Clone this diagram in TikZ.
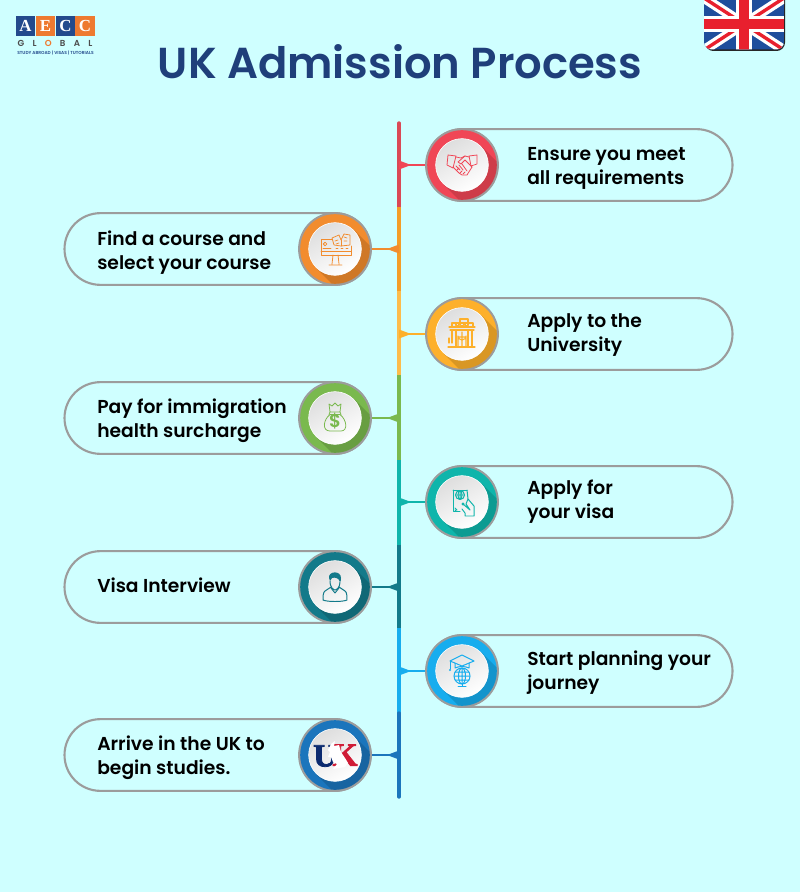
\documentclass[tikz,border=0pt]{standalone}
\usepackage{fontspec}
\setmainfont{Poppins}[BoldFont={Poppins SemiBold}]
\newfontfamily\serifbold{Liberation Serif}
\newfontfamily\heavyserif[BoldFeatures={FakeBold=2.5}]{Liberation Serif}
\usetikzlibrary{arrows.meta, positioning, calc}
\definecolor{skybg}{HTML}{CFFFFF}
\definecolor{titlenavy}{HTML}{1F3F7A}
\definecolor{pillgray}{HTML}{9C9C9C}
\definecolor{stepred}{HTML}{F04656}
\definecolor{steporange}{HTML}{F28C2E}
\definecolor{stepyellow}{HTML}{FDB02B}
\definecolor{stepgreen}{HTML}{7AB94E}
\definecolor{stepteal}{HTML}{0FB5AB}
\definecolor{stepdeep}{HTML}{137A8A}
\definecolor{stepsky}{HTML}{17ADEE}
\definecolor{stepblue}{HTML}{1B75BC}
\definecolor{logoblue}{HTML}{234A8C}
\definecolor{logoorange}{HTML}{EE7A30}
\definecolor{flagblue}{HTML}{1F4E9C}
\definecolor{flagred}{HTML}{E8202E}
\definecolor{uknavy}{HTML}{0B2A6F}
\definecolor{ukred}{HTML}{D01C36}
\begin{document}
\begin{tikzpicture}[x=0.025cm,y=-0.025cm]
  \tikzstyle{pill}=[draw=pillgray, line width=1.5pt, fill=skybg, rounded corners=25.5pt,
    minimum width=217.6pt, minimum height=51pt, inner sep=0pt]
  \tikzstyle{steptext}=[anchor=west, align=left, inner sep=0pt, font=\fontsize{13.3}{17}\selectfont\bfseries]
  \tikzstyle{ring}=[circle, fill=pillgray, minimum size=52.5pt, inner sep=0pt]
  \tikzstyle{badge}=[circle, fill=#1, minimum size=49.5pt, inner sep=0pt,
    path picture={\fill[black,opacity=.14]
      (path picture bounding box.center) ++(-19,19) -- ++(60,60) -- ++(38,-38) -- ++(-60,-60) -- cycle;}]
  \tikzstyle{disc}=[circle, draw=white, line width=0.4pt, minimum size=37.5pt, inner sep=0pt,
    left color=black!13, right color=white, shading angle=30]
  \tikzstyle{tap}=[line width=1.1pt]
  \tikzstyle{icon}=[line width=0.55pt, line join=round, line cap=round]

  \fill[skybg] (0,0) rectangle (800,892);
  \useasboundingbox (0,0) rectangle (800,892);

  % logo
  \node[fill=logoblue, minimum size=13.6pt, inner sep=0pt, text=white, font=\serifbold\bfseries\fontsize{12}{12}\selectfont] (lA) at (25.5,26) {A};
  \node[fill=logoorange, minimum size=13.6pt, inner sep=0pt, text=white, font=\serifbold\bfseries\fontsize{12}{12}\selectfont] (lE) at (45.5,26) {E};
  \node[fill=logoblue, minimum size=13.6pt, inner sep=0pt, text=white, font=\serifbold\bfseries\fontsize{12}{12}\selectfont] (lC) at (65.5,26) {C};
  \node[fill=logoorange, minimum size=13.6pt, inner sep=0pt, text=white, font=\serifbold\bfseries\fontsize{12}{12}\selectfont] (lD) at (85,26) {C};
  \node[text width=53pt, inner sep=0pt, text=black!70, font=\fontsize{6.2}{7}\selectfont\bfseries] (lG) at (55,43)
    {G\hfill L\hfill \textcolor{logoorange}{O}\hfill B\hfill A\hfill L};
  \node[inner sep=0pt, text=logoblue, font=\fontsize{3.1}{4}\selectfont\bfseries] (lT) at (55.5,53)
    {STUDY ABROAD | VISAS | TUTORIALS};

  % flag
  \fill[black!85, rounded corners=6pt] (705,-12) rectangle (785,51);
  \begin{scope}
    \clip[rounded corners=5.5pt] (704,-12) rectangle (784,49.5);
    \fill[flagblue] (704,-2) rectangle (784,50);
    \draw[white, line width=7pt] (704,-2) -- (784,50) (704,50) -- (784,-2);
    \draw[flagred, line width=2.4pt] (704,-2) -- (744,24) (784,50) -- (744,24) (704,50) -- (744,24) (784,-2) -- (744,24);
    \draw[white, line width=12pt] (744,-2) -- (744,50) (704,24) -- (784,24);
    \draw[flagred, line width=7.5pt] (744,-2) -- (744,50) (704,24) -- (784,24);
  \end{scope}

  \node[text=titlenavy, inner sep=0pt, font=\fontsize{30.8}{36}\selectfont\bfseries] (title) at (400,62)
    {UK Admission Process};

  % spine
  \coordinate (v0) at (399,123);
  \coordinate (v1) at (399,207);
  \coordinate (v2) at (399,291);
  \coordinate (v3) at (399,375);
  \coordinate (v4) at (399,460);
  \coordinate (v5) at (399,544.5);
  \coordinate (v6) at (399,628);
  \coordinate (v7) at (399,713);
  \coordinate (v8) at (399,797);
  \draw[line width=2.4pt,stepred!90!black!95,line cap=round] (v0)--(v1);
  \draw[line width=2.4pt,steporange!85!yellow] (v1)--(v2);
  \draw[line width=2.4pt,stepyellow!85!white] (v2)--(v3);
  \draw[line width=2.4pt,stepgreen] (v3)--(v4);
  \draw[line width=2.4pt,stepteal] (v4)--(v5);
  \draw[line width=2.4pt,stepdeep] (v5)--(v6);
  \draw[line width=2.4pt,stepsky] (v6)--(v7);
  \draw[line width=2.4pt,stepblue,line cap=round] (v7)--(v8);

  % steps
  \node[pill] (p1) at (579.5,165) {};
  \node[pill] (p2) at (217.5,249) {};
  \node[pill] (p3) at (579.5,334) {};
  \node[pill] (p4) at (217.5,418) {};
  \node[pill] (p5) at (579.5,502) {};
  \node[pill] (p6) at (217.5,587) {};
  \node[pill] (p7) at (579.5,671) {};
  \node[pill] (p8) at (217.5,755) {};

  \node[steptext] (t1) at (527,168) {Ensure you meet\\all requirements};
  \node[steptext] (t2) at (97,253) {Find a course and\\select your course};
  \node[steptext] (t3) at (527,335) {Apply to the\\University};
  \node[steptext] (t4) at (97,421) {Pay for immigration\\health surcharge};
  \node[steptext] (t5) at (527,502) {Apply for\\your visa};
  \node[steptext] (t6) at (97,585) {Visa Interview};
  \node[steptext] (t7) at (527,673) {Start planning your\\journey};
  \node[steptext] (t8) at (97,758) {Arrive in the UK to\\begin studies.};

  \node[ring] (r1) at (462,165) {};
  \node[ring] (r2) at (335,249) {};
  \node[ring] (r3) at (462,334) {};
  \node[ring] (r4) at (335,418) {};
  \node[ring] (r5) at (462,502) {};
  \node[ring] (r6) at (335,587) {};
  \node[ring] (r7) at (462,671) {};
  \node[ring] (r8) at (335,755) {};
  \node[badge=stepred] (b1) at (r1) {};
  \node[badge=steporange] (b2) at (r2) {};
  \node[badge=stepyellow] (b3) at (r3) {};
  \node[badge=stepgreen] (b4) at (r4) {};
  \node[badge=stepteal] (b5) at (r5) {};
  \node[badge=stepdeep] (b6) at (r6) {};
  \node[badge=stepsky] (b7) at (r7) {};
  \node[badge=stepblue] (b8) at (r8) {};
  \node[disc] (d1) at (r1) {};
  \node[disc] (d2) at (r2) {};
  \node[disc] (d3) at (r3) {};
  \node[disc] (d4) at (r4) {};
  \node[disc] (d5) at (r5) {};
  \node[disc] (d6) at (r6) {};
  \node[disc] (d7) at (r7) {};
  \node[disc] (d8) at (r8) {};

  \coordinate (n1) at (399,165);
  \coordinate (n2) at (399,249);
  \coordinate (n3) at (399,334);
  \coordinate (n4) at (399,418);
  \coordinate (n5) at (399,502);
  \coordinate (n6) at (399,587);
  \coordinate (n7) at (399,671);
  \coordinate (n8) at (399,755);
  \draw[tap,stepred] (r1)--(n1);
  \draw[tap,steporange] (r2)--(n2);
  \draw[tap,stepyellow] (r3)--(n3);
  \draw[tap,stepgreen] (r4)--(n4);
  \draw[tap,stepteal] (r5)--(n5);
  \draw[tap,stepdeep] (r6)--(n6);
  \draw[tap,stepsky] (r7)--(n7);
  \draw[tap,stepblue] (r8)--(n8);
  \fill[stepred] ($(n1)+(0,-4.5)$) -- ($(n1)+(12,0)$) -- ($(n1)+(0,4.5)$) -- cycle;
  \fill[steporange] ($(n2)+(0,-4.5)$) -- ($(n2)+(-12,0)$) -- ($(n2)+(0,4.5)$) -- cycle;
  \fill[stepyellow] ($(n3)+(0,-4.5)$) -- ($(n3)+(12,0)$) -- ($(n3)+(0,4.5)$) -- cycle;
  \fill[stepgreen] ($(n4)+(0,-4.5)$) -- ($(n4)+(-12,0)$) -- ($(n4)+(0,4.5)$) -- cycle;
  \fill[stepteal] ($(n5)+(0,-4.5)$) -- ($(n5)+(12,0)$) -- ($(n5)+(0,4.5)$) -- cycle;
  \fill[stepdeep] ($(n6)+(0,-4.5)$) -- ($(n6)+(-12,0)$) -- ($(n6)+(0,4.5)$) -- cycle;
  \fill[stepsky] ($(n7)+(0,-4.5)$) -- ($(n7)+(12,0)$) -- ($(n7)+(0,4.5)$) -- cycle;
  \fill[stepblue] ($(n8)+(0,-4.5)$) -- ($(n8)+(-12,0)$) -- ($(n8)+(0,4.5)$) -- cycle;

  % handshake
  \begin{scope}[shift={(462,165)},icon,draw=stepred]
    \draw (-14,-10) -- (-6,-9) -- (-9,3) -- (-15,0) -- cycle;
    \draw (15,-10) -- (7,-9) -- (9,1) -- (15,-1) -- cycle;
    \draw (-6,-8) -- (-1,-7) -- (3,-9) -- (7,-8);
    \draw (3,-9) -- (-4,-3) -- (-1,-1) -- (3,-5) -- (10,2);
    \draw (-9,2) -- (-3,8) -- (0,10) -- (5,10) -- (10,2);
    \draw (-6,1) -- (-2,5) (-3,-0) -- (1,5) (0,-1) -- (5,6) (-5,5) -- (-3,3) (-2,8) -- (0,6) (1,9) -- (3,7);
  \end{scope}
  % screen and books
  \begin{scope}[shift={(335,249)},icon,draw=steporange]
    \draw (-3,-10) -- (-14,-10) -- (-14,6) -- (16,6) -- (16,-3);
    \draw (-14,2) -- (16,2);
    \draw (-2,6) -- (-3,15) (3,6) -- (4,15) (-6,16) -- (7,16);
    \draw (-1,-4) -- (-3,-11) -- (4,-14) -- (6,-9) -- (9,-15) -- (15,-14) -- (15,-4) -- (6,-3) -- cycle;
    \draw (6,-9) -- (6,-3);
    \draw (-10,-5) circle (1.8);
    \draw (-12,-1) -- (-4,-1) (1,-1) -- (3,-1) (6,-1) -- (8,-1) (11,-1) -- (13,-1);
    \draw (0,-8) -- (3,-9) (1,-5) -- (4,-6) (9,-12) -- (12,-11) (9,-8) -- (12,-8);
  \end{scope}
  % university
  \begin{scope}[shift={(462,334)},icon,draw=stepyellow,line width=0.75pt]
    \draw (-2,-15) rectangle (6,-11);
    \draw (-10,-11) rectangle (11,-7);
    \draw (-13,-7) -- (13,-7) (-12,-4) -- (12,-4);
    \draw (-10,-4) -- (-10,9) (10,-4) -- (10,13) (-6,-4) -- (-6,13) (6,-4) -- (6,13);
    \draw (-14,13) -- (13,13);
    \draw (-6,-11) rectangle (-3,-8.5) (-1.5,-11) rectangle (1.5,-8.5) (3,-11) rectangle (6,-8.5);
    \draw (-4,13) -- (-4,2) arc (180:0:4) -- (4,13) (0,-2) -- (0,13) (-4,3) -- (4,3);
    \draw (-13,4) -- (-13,9);
  \end{scope}
  % money bag
  \begin{scope}[shift={(335,418)},icon,draw=stepgreen]
    \draw (-5,-6) -- (-6,-14) -- (-3,-12) -- (0,-15) -- (3,-12) -- (6,-14) -- (5,-6) -- cycle;
    \draw (-6,-3.5) -- (-5,-6) (6,-3.5) -- (5,-6);
    \draw (-5,-3.5) .. controls (-12,2) and (-13,13) .. (-5,13) -- (6,13) .. controls (13,13) and (12,2) .. (5,-3.5) -- cycle;
    \node[text=stepgreen, inner sep=0pt, font=\fontsize{13}{13}\selectfont\bfseries] (dollar) at (0,3.5) {\$};
  \end{scope}
  % passport
  \begin{scope}[shift={(462,502)},icon,draw=stepteal,line width=0.7pt]
    \draw (-9,-12) -- (5,-12) (-9,-12) -- (-9,9) -- (-2,9);
    \draw (5,-12) -- (6,-3);
    \draw (-2,-7) circle (4.5);
    \draw (-6.5,-7) -- (2.5,-7) (-2,-11.5) -- (-2,-2.5) (-2,-7) ellipse (2 and 4.5);
    \draw (-7,6) -- (-5,8) (-7,8) -- (-6,9);
    \draw (1,2) -- (8,8) -- (4,2) -- (6,-3) -- (12,4) -- (12,14) -- (3,14) -- (3,11) -- (0,7);
    \fill[stepteal] (1,2) circle (1.7);
  \end{scope}
  % person
  \begin{scope}[shift={(335,587)},icon,draw=stepdeep,line width=0.7pt]
    \fill[stepdeep] (-6,-9) .. controls (-7,-16) and (6,-17) .. (6,-9) .. controls (6,-7) and (6,-6) .. (5,-5)
      .. controls (4,-9) and (0,-10) .. (-3,-9) .. controls (-4,-8) and (-4,-7) .. (-5,-6) -- cycle;
    \draw (-5,-6) .. controls (-5,1) and (-1,3) .. (0,3) .. controls (1,3) and (5,1) .. (5,-5);
    \draw (-4,0) -- (-10,4) .. controls (-12,5) and (-12,10) .. (-12,13) .. controls (-8,15) and (8,15) .. (12,13)
      .. controls (12,10) and (12,5) .. (10,4) -- (4,0);
    \draw (-4,1) -- (0,6) -- (4,1);
  \end{scope}
  % graduation globe
  \begin{scope}[shift={(462,671)},icon,draw=stepsky,line width=0.7pt]
    \draw (-12,-10) -- (0,-16) -- (12,-10) -- (0,-5) -- cycle;
    \draw (-7,-8) -- (-7,-3) .. controls (-3,-5) and (3,-5) .. (7,-3) -- (7,-8);
    \draw (-12,-10) -- (-12,-2);
    \fill[stepsky] (-12,-1) circle (1.2);
    \draw (0,5) circle (8);
    \draw (0,5) ellipse (3.5 and 8) (-8,5) -- (8,5) (-7,1) -- (7,1) (-7,9) -- (7,9) (0,-3) -- (0,13);
    \draw (0,13) -- (0,15) (-4,15) -- (4,15);
  \end{scope}
  % UK mark
  \node[text=uknavy, inner sep=0pt, font=\heavyserif\bfseries\fontsize{23}{23}\selectfont] (ukU) at (325,756) {U};
  \node[text=ukred, inner sep=0pt, font=\heavyserif\bfseries\fontsize{23}{23}\selectfont] (ukK) at (345,755) {K};
  \fill[white] (331,744) -- (335,741) -- (334,746) -- (339,745) -- (341,752) -- (345,758) -- (348,763) -- (345,767)
    -- (333,769) -- (337,764) -- (333,762) -- (331,757) -- (328,757) -- (330,752) -- (328,750) -- cycle;
\end{tikzpicture}
\end{document}
